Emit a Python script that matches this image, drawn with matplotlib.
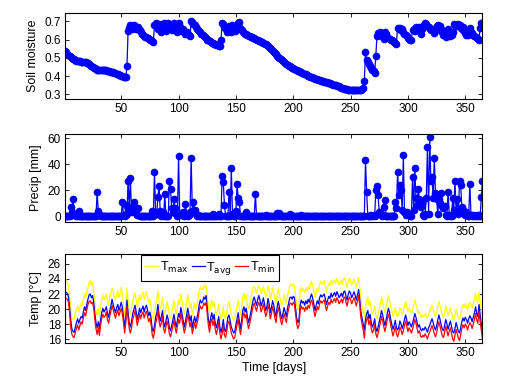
import numpy as np
import matplotlib
matplotlib.use('Agg')
import matplotlib.pyplot as plt

plt.rcParams['font.family'] = ['Liberation Sans', 'DejaVu Sans']

days = np.arange(1, 366)

# daily soil moisture (-)
soil = [
    .535, .530, .522, .515, .508, .502, .498, .495, .492, .488,
    .485, .483, .482, .481, .480, .480, .479, .478, .476, .473,
    .470, .465, .460, .455, .450, .446, .442, .438, .436, .435,
    .434, .434, .433, .433, .432, .432, .431, .430, .428, .425,
    .423, .421, .420, .418, .416, .413, .410, .407, .404, .401,
    .400, .398, .395, .393, .455, .645, .665, .680, .660, .670,
    .680, .665, .660, .655, .670, .650, .640, .630, .625, .620,
    .615, .612, .608, .603, .600, .595, .590, .585, .680, .690,
    .670, .660, .685, .655, .640, .660, .690, .670, .645, .680,
    .690, .680, .660, .650, .670, .690, .665, .650, .640, .690,
    .670, .650, .645, .660, .640, .630, .640, .630, .625, .620,
    .700, .695, .685, .680, .670, .660, .650, .645, .640, .632,
    .625, .618, .612, .606, .600, .595, .590, .585, .582, .580,
    .578, .575, .572, .569, .566, .565, .597, .693, .685, .670,
    .655, .640, .660, .675, .650, .640, .680, .660, .645, .650,
    .680, .690, .695, .665, .650, .640, .635, .632, .628, .625,
    .622, .619, .616, .613, .610, .607, .604, .600, .597, .594,
    .591, .588, .584, .580, .577, .573, .569, .564, .558, .552,
    .546, .540, .533, .526, .519, .512, .505, .499, .493, .487,
    .481, .476, .471, .466, .462, .458, .454, .450, .446, .442,
    .438, .435, .432, .429, .426, .423, .420, .417, .414, .412,
    .409, .406, .403, .400, .397, .394, .391, .389, .387, .384,
    .382, .380, .378, .376, .374, .372, .370, .368, .366, .364,
    .362, .360, .358, .356, .354, .352, .350, .348, .346, .344,
    .338, .336, .334, .332, .330, .328, .327, .326, .325, .324,
    .323, .323, .322, .322, .322, .322, .322, .323, .325, .328,
    .335, .375, .530, .490, .475, .465, .455, .445, .435, .428,
    .418, .510, .620, .635, .625, .640, .628, .612, .605, .640,
    .630, .615, .610, .605, .600, .595, .590, .585, .580, .578,
    .665, .660, .665, .650, .660, .640, .632, .625, .617, .610,
    .605, .600, .600, .650, .660, .645, .670, .650, .660, .670,
    .630, .660, .675, .680, .690, .685, .675, .670, .660, .650,
    .660, .650, .635, .645, .675, .680, .670, .675, .660, .640,
    .625, .630, .615, .640, .655, .635, .620, .625, .640, .685,
    .680, .680, .675, .685, .680, .665, .660, .670, .645, .635,
    .625, .625, .630, .665, .640, .635, .625, .620, .615, .610,
    .605, .600, .665, .690, .690,
]

# rainy days and amounts (mm); every other day is 0
rain_days = [6, 7, 8, 9, 10, 13, 29, 30, 31, 51, 52, 54, 55, 56, 57, 58, 59, 60,
             61, 62, 63, 64, 65, 77, 79, 80, 81, 82, 83, 84, 86, 88, 92, 93, 94,
             95, 96, 97, 98, 100, 101, 102, 103, 104, 106, 107, 109, 110, 111,
             112, 113, 114, 115, 117, 130, 135, 138, 139, 140, 144, 146, 147,
             150, 151, 152, 153, 159, 167, 176, 186, 188, 197, 207, 263, 264,
             268, 270, 272, 273, 274, 275, 276, 278, 279, 280, 289, 290, 291,
             292, 293, 294, 295, 296, 297, 298, 299, 300, 301, 304, 305, 306,
             307, 308, 309, 310, 311, 312, 313, 315, 316, 317, 318, 319,
             320, 321, 322, 323, 324, 325, 326, 327, 328, 329, 330, 331, 332,
             333, 335, 336,
             339, 340, 341, 342, 343, 344, 345, 346, 347, 348, 349, 350, 351,
             354, 355, 357, 360, 362, 364, 365]
rain_mm = [7, 3, 13.5, 2, 1, 4, 19, 4, 2, 11, 1, 9, 2, 27.5, 6, 29.5, 3, 8,
           11, 3, 5, 1, 6, 4, 34, 3, 2, 15, 23.5, 4, 3, 17, 27, 21, 6,
           3, 13, 6, 2, 46, 1, 2, 1, 3, 9.5, 2, 1, 3, 45,
           4, 11, 5, 2, 1, 2, 2, 31, 26, 9, 19, 37, 2,
           4, 24.5, 14, 11, 3, 17, 1, 2.5, 2.5, 2, 1, 43, 19,
           1, 1, 20, 23.5, 16, 3, 2, 1, 7, 12.5, 11, 6, 34,
           16, 24, 20, 5, 47, 3, 1, 3, 2, 1, 30, 5, 37,
           14, 9, 21, 13, 7, 10, 1, 2, 14, 53, 2, 61,
           27, 30, 14, 45, 18, 13, 2, 13, 10, 18, 8, 6,
           8, 1, 19, 1,
           14, 5, 27, 4, 13, 2, 27, 24, 7, 5, 2, 1, 3,
           25, 1, 1, 1, 1, 15, 27]

t_avg = [
    22.3, 22.2, 22.1, 21.6, 20.2, 18.5, 17.3, 17.0, 16.9, 17.6,
    18.2, 18.7, 18.1, 18.6, 19.0, 18.8, 19.6, 20.3, 19.8, 20.6,
    21.3, 21.9, 22.0, 21.5, 21.8, 20.9, 19.4, 18.2, 17.5, 18.3,
    17.4, 18.6, 19.5, 20.1, 19.6, 19.9, 20.3, 19.4, 18.9, 19.8,
    20.4, 21.3, 20.6, 20.0, 19.5, 20.2, 20.6, 19.8, 20.3, 20.9,
    20.2, 19.0, 17.6, 18.9, 21.2, 19.5, 18.2, 17.6, 18.3, 19.4,
    19.9, 20.5, 19.7, 18.6, 19.3, 20.1, 19.5, 20.0, 20.4, 19.6,
    20.2, 20.5, 19.8, 19.1, 19.6, 18.8, 17.4, 17.0, 17.8, 18.9,
    19.5, 20.6, 19.2, 18.4, 19.0, 19.8, 18.2, 17.6, 18.4, 19.2,
    18.6, 17.5, 17.1, 17.8, 18.5, 19.3, 18.3, 17.6, 18.5, 19.4,
    18.9, 20.2, 19.4, 18.5, 17.6, 18.3, 19.2, 20.1, 19.3, 18.4,
    19.1, 17.5, 18.3, 19.0, 18.2, 18.8, 19.5, 20.6, 21.2, 20.8,
    21.0, 21.6, 21.3, 21.8, 20.2, 18.6, 17.8, 18.9, 19.5, 18.6,
    19.3, 18.1, 17.5, 18.2, 19.0, 17.6, 16.9, 17.5, 18.6, 17.3,
    17.0, 17.8, 18.9, 19.2, 18.4, 17.6, 17.2, 16.8, 17.0, 17.9,
    18.7, 19.5, 18.3, 17.4, 18.5, 19.8, 20.3, 19.6, 20.1, 19.0,
    18.2, 18.8, 19.6, 20.4, 21.2, 21.6, 21.0, 20.5, 21.3, 21.8,
    21.2, 20.4, 20.9, 21.5, 20.6, 19.8, 20.3, 21.4, 20.7, 19.5,
    20.2, 21.1, 20.5, 19.6, 19.0, 20.3, 21.0, 20.2, 19.3, 18.7,
    19.4, 20.2, 19.6, 19.0, 20.1, 20.8, 21.5, 21.6, 21.3, 21.7,
    21.5, 20.2, 18.8, 18.2, 18.6, 20.5, 21.2, 20.8, 21.0, 20.5,
    21.1, 20.7, 21.3, 20.9, 21.6, 22.0, 21.4, 20.6, 19.8, 20.5,
    21.1, 20.7, 21.5, 21.9, 21.6, 21.8, 22.0, 21.3, 20.6, 21.2,
    21.7, 21.4, 22.1, 21.6, 21.9, 22.2, 21.7, 22.3, 22.0, 21.5,
    21.8, 22.1, 21.6, 22.3, 22.4, 21.7, 21.2, 22.0, 22.4, 22.1,
    21.5, 21.9, 22.3, 21.8, 21.2, 21.9, 22.6, 21.3, 19.6, 18.8,
    18.0, 17.2, 18.6, 19.4, 19.8, 18.7, 19.3, 18.2, 17.6, 18.0,
    18.7, 17.5, 17.0, 17.6, 18.3, 19.0, 19.8, 19.2, 18.4, 17.8,
    18.6, 19.4, 20.1, 19.5, 18.6, 17.9, 17.3, 17.8, 18.5, 17.5,
    17.2, 17.6, 18.4, 18.0, 17.4, 17.9, 18.6, 19.2, 18.5, 17.8,
    18.3, 18.0, 17.6, 18.1, 18.7, 19.4, 18.9, 18.2, 17.6, 17.9,
    17.3, 17.1, 17.4, 17.2, 17.6, 17.3, 16.9, 17.5, 17.8, 18.3,
    18.7, 18.2, 17.6, 17.2, 17.7, 18.5, 19.2, 18.6, 17.9, 17.3,
    17.1, 17.8, 18.6, 18.0, 17.3, 17.9, 18.4, 17.7, 17.0, 16.8,
    17.4, 18.2, 17.6, 17.0, 16.8, 17.5, 18.3, 18.8, 18.4, 18.9,
    18.6, 18.1, 18.7, 19.1, 18.8, 18.3, 18.9, 19.5, 20.3, 19.4,
    19.0, 20.6, 19.2, 18.1, 16.9,
]

t_max = [
    24.1, 23.9, 23.6, 23.0, 21.6, 20.0, 18.8, 18.6, 18.7, 19.5,
    20.0, 20.4, 19.6, 20.3, 20.8, 20.5, 21.4, 22.0, 21.4, 22.3,
    22.9, 23.5, 23.8, 23.1, 23.6, 22.5, 21.0, 19.8, 19.2, 20.1,
    19.0, 20.4, 21.3, 21.9, 21.2, 21.6, 22.0, 21.1, 20.5, 21.6,
    22.1, 22.8, 22.3, 21.6, 21.2, 22.0, 22.4, 21.5, 22.0, 22.9,
    21.9, 20.6, 19.2, 20.6, 22.8, 21.1, 19.8, 19.3, 20.0, 21.1,
    21.6, 22.2, 21.3, 20.2, 21.0, 21.9, 21.2, 21.8, 22.2, 21.3,
    21.9, 22.3, 21.5, 20.8, 21.3, 20.4, 19.0, 18.7, 19.5, 20.6,
    21.2, 22.4, 20.9, 20.0, 20.7, 21.6, 19.9, 19.3, 20.1, 21.0,
    20.3, 19.1, 18.7, 19.5, 20.2, 21.1, 20.0, 19.3, 20.2, 21.2,
    20.6, 22.0, 21.1, 20.2, 19.3, 20.0, 20.9, 21.9, 21.0, 20.1,
    20.8, 19.1, 20.0, 20.7, 19.9, 20.6, 21.4, 22.5, 22.9, 22.6,
    22.7, 23.1, 22.9, 23.2, 21.9, 20.3, 19.5, 20.6, 21.2, 20.3,
    21.0, 19.8, 19.2, 19.9, 20.7, 19.3, 18.6, 19.2, 20.3, 19.0,
    18.7, 19.5, 20.6, 21.0, 20.1, 19.3, 18.9, 18.5, 18.7, 19.6,
    20.4, 21.2, 20.0, 19.1, 20.2, 21.6, 22.1, 21.3, 21.9, 20.7,
    19.9, 20.5, 21.3, 22.1, 22.9, 23.0, 22.6, 22.1, 22.8, 23.1,
    22.8, 22.0, 22.5, 23.0, 22.3, 21.5, 22.0, 23.1, 22.4, 21.2,
    21.9, 22.8, 22.2, 21.3, 20.7, 22.0, 22.7, 21.9, 21.0, 20.4,
    21.1, 21.9, 21.3, 20.7, 21.8, 22.5, 23.2, 23.3, 23.0, 23.4,
    23.1, 21.9, 20.5, 19.9, 20.3, 22.2, 22.9, 22.5, 22.7, 22.2,
    22.8, 22.4, 23.0, 22.6, 23.3, 23.7, 23.1, 22.3, 21.5, 22.2,
    22.8, 22.4, 23.2, 23.7, 23.3, 23.5, 23.8, 23.0, 22.3, 22.9,
    23.4, 23.1, 23.8, 23.3, 23.6, 23.9, 23.4, 24.1, 23.7, 23.2,
    23.5, 23.8, 23.3, 24.0, 24.2, 23.4, 22.9, 23.7, 24.1, 23.8,
    23.2, 23.6, 24.0, 23.5, 22.9, 23.6, 24.2, 23.0, 21.3, 20.5,
    19.7, 18.9, 20.3, 21.1, 21.6, 20.4, 21.0, 19.9, 19.3, 19.7,
    20.4, 19.2, 18.7, 19.3, 20.0, 20.7, 21.5, 20.9, 20.1, 19.5,
    20.3, 21.1, 21.8, 21.2, 20.3, 19.6, 19.0, 19.5, 20.2, 19.2,
    19.0, 19.4, 20.2, 19.8, 19.2, 19.7, 20.4, 21.0, 20.3, 19.6,
    20.1, 19.8, 19.4, 19.9, 20.5, 21.2, 20.7, 20.0, 19.4, 19.7,
    19.1, 18.9, 19.2, 19.0, 19.4, 19.1, 18.7, 19.3, 19.6, 20.1,
    20.5, 20.0, 19.4, 19.0, 19.5, 20.3, 21.0, 20.4, 19.7, 19.1,
    18.9, 19.6, 20.4, 19.8, 19.1, 19.7, 20.2, 19.5, 18.8, 18.6,
    19.2, 20.0, 19.4, 18.8, 18.6, 19.3, 20.1, 20.6, 20.2, 20.7,
    20.4, 19.9, 20.5, 20.9, 20.6, 20.1, 20.7, 21.3, 22.1, 21.2,
    20.8, 22.3, 21.0, 19.9, 18.6,
]

t_min = [
    21.5, 21.4, 21.3, 20.9, 19.4, 17.6, 16.6, 16.3, 16.2, 16.9,
    17.4, 17.9, 17.2, 17.8, 18.3, 18.0, 18.8, 19.5, 19.1, 19.9,
    20.6, 21.0, 21.1, 20.7, 20.9, 20.1, 18.6, 17.4, 16.6, 17.5,
    16.5, 17.8, 18.7, 19.3, 18.9, 19.1, 19.6, 18.6, 18.1, 19.0,
    19.7, 20.5, 19.9, 19.3, 18.8, 19.4, 19.9, 19.1, 19.6, 20.1,
    19.4, 18.2, 16.8, 18.1, 20.4, 18.7, 17.4, 16.8, 17.5, 18.6,
    19.1, 19.8, 18.9, 17.8, 18.5, 19.4, 18.7, 19.3, 19.6, 18.8,
    19.4, 19.7, 19.0, 18.3, 18.8, 18.0, 16.6, 16.1, 16.9, 18.1,
    18.7, 19.9, 18.4, 17.6, 18.2, 19.0, 17.4, 16.8, 17.6, 18.4,
    17.8, 16.7, 16.3, 17.0, 17.7, 18.5, 17.5, 16.8, 17.7, 18.6,
    18.1, 19.4, 18.6, 17.7, 16.8, 17.5, 18.4, 19.3, 18.5, 17.6,
    18.3, 16.7, 17.5, 18.2, 17.4, 18.0, 18.7, 19.8, 20.4, 20.0,
    20.2, 20.8, 20.5, 20.9, 19.4, 17.8, 16.9, 18.1, 18.7, 17.8,
    18.5, 17.3, 16.6, 17.4, 18.2, 16.8, 16.0, 16.7, 17.8, 16.5,
    16.2, 17.0, 18.1, 18.4, 17.6, 16.8, 16.4, 16.0, 16.2, 17.1,
    17.9, 18.7, 17.5, 16.6, 17.7, 19.0, 19.5, 18.8, 19.3, 18.2,
    17.4, 18.0, 18.8, 19.6, 20.4, 20.8, 20.2, 19.7, 20.5, 20.9,
    20.4, 19.6, 20.1, 20.7, 19.8, 19.0, 19.5, 20.6, 19.9, 18.7,
    19.4, 20.3, 19.7, 18.8, 18.2, 19.5, 20.2, 19.4, 18.5, 17.9,
    18.6, 19.4, 18.8, 18.2, 19.3, 20.0, 20.7, 20.8, 20.5, 20.9,
    20.7, 19.4, 18.0, 17.4, 17.8, 19.7, 20.4, 20.0, 20.2, 19.7,
    20.3, 19.9, 20.5, 20.1, 20.8, 21.2, 20.6, 19.8, 19.0, 19.7,
    20.3, 19.9, 20.7, 21.1, 20.8, 21.0, 21.2, 20.5, 19.8, 20.4,
    20.9, 20.6, 21.3, 20.8, 21.1, 21.4, 20.9, 21.5, 21.2, 20.7,
    21.0, 21.3, 20.8, 21.5, 21.6, 20.9, 20.4, 21.2, 21.6, 21.3,
    20.7, 21.1, 21.5, 21.0, 20.4, 21.1, 21.8, 20.5, 18.8, 18.0,
    17.2, 16.1, 17.8, 18.6, 19.0, 17.9, 18.5, 17.4, 16.8, 17.2,
    17.9, 16.7, 16.2, 16.8, 17.5, 18.2, 19.0, 18.4, 17.6, 17.0,
    17.8, 18.6, 19.3, 18.7, 17.8, 17.1, 16.4, 17.0, 17.7, 16.7,
    16.3, 16.8, 17.6, 17.2, 16.6, 17.1, 17.8, 18.4, 17.7, 17.0,
    17.5, 17.2, 16.8, 17.3, 17.9, 18.6, 18.1, 17.4, 16.8, 17.1,
    16.4, 16.2, 16.5, 16.3, 16.7, 16.4, 16.0, 16.6, 16.9, 17.4,
    17.8, 17.3, 16.7, 16.3, 16.8, 17.6, 18.3, 17.7, 17.0, 16.4,
    16.2, 16.9, 17.7, 17.1, 16.4, 17.0, 17.5, 16.8, 16.0, 15.7,
    16.5, 17.3, 16.7, 16.1, 15.8, 16.6, 17.4, 17.9, 17.5, 18.0,
    17.7, 17.2, 17.8, 18.2, 17.9, 17.4, 18.0, 18.6, 19.4, 18.5,
    18.1, 19.7, 18.3, 17.2, 16.0,
]

precip = np.zeros(len(days))
precip[np.array(rain_days) - 1] = rain_mm

BLUE = '#0000ff'


def style(ax):
    ax.set_xlim(1, 365)
    ax.set_xticks([50, 100, 150, 200, 250, 300, 350])
    ax.tick_params(direction='in', top=True, right=True, length=3,
                   width=0.6, labelsize=8.5, pad=3)
    for s in ax.spines.values():
        s.set_linewidth(0.8)


fig = plt.figure(figsize=(5.06, 3.83), dpi=100)

ax1 = fig.add_axes([0.1285, 0.7415, 0.825, 0.2245])
ax1.plot(days, soil, '-o', color=BLUE, lw=0.9, ms=4.5, mec=BLUE, mfc=BLUE)
ax1.set_ylim(0.275, 0.745)
ax1.set_yticks([0.3, 0.4, 0.5, 0.6, 0.7])
ax1.set_ylabel('Soil moisture', fontsize=9)
style(ax1)

ax2 = fig.add_axes([0.1285, 0.4204, 0.825, 0.2298])
ax2.plot(days, precip, '-o', color=BLUE, lw=0.9, ms=4.5, mec=BLUE, mfc=BLUE)
ax2.set_ylim(-4.4, 63.3)
ax2.set_yticks([0, 20, 40, 60])
ax2.set_ylabel('Precip [mm]', fontsize=9)
style(ax2)

ax3 = fig.add_axes([0.1285, 0.1044, 0.825, 0.2324])
ax3.plot(days, t_max, color='#ffff00', lw=0.9, label=r'T$_{\mathrm{max}}$')
ax3.plot(days, t_avg, color=BLUE, lw=0.9, label=r'T$_{\mathrm{avg}}$')
ax3.plot(days, t_min, color='#ff0000', lw=0.9, label=r'T$_{\mathrm{min}}$')
ax3.set_ylim(15.47, 27.33)
ax3.set_yticks([16, 18, 20, 22, 24, 26])
ax3.set_ylabel('Temp [°C]', fontsize=9)
ax3.set_xlabel('Time [days]', fontsize=9, labelpad=2)
style(ax3)
leg = ax3.legend(loc='upper left', bbox_to_anchor=(0.182, 0.985), ncol=3,
                 fontsize=9, handlelength=1.0, handletextpad=0.15,
                 columnspacing=0.3, borderpad=0.35, fancybox=False,
                 framealpha=1, borderaxespad=0)
leg.get_frame().set_edgecolor('black')
leg.get_frame().set_linewidth(0.8)

fig.savefig('out.png', dpi=100)
